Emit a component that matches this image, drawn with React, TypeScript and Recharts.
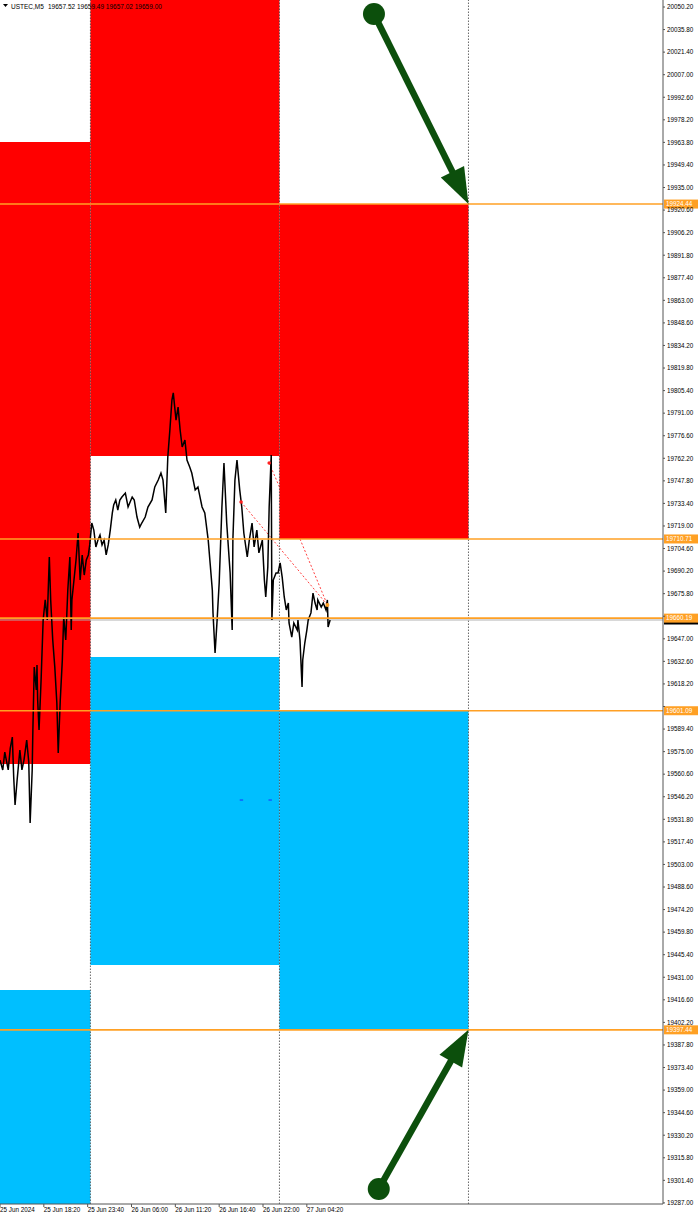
import React from "react";
import {
  ComposedChart,
  Line,
  XAxis,
  YAxis,
  ReferenceArea,
  ReferenceLine,
  ReferenceDot,
} from "recharts";

// M5 bar index (bar 0 = 25 Jun 13:00) and price
const usTecPath: [number, number][] = [
  [0, 19569.6], [4, 19563.3], [7, 19574.7], [12, 19563.3], [15, 19577.3], [18, 19584.3], [20, 19558.8], [22, 19540.9],
  [25, 19556.9], [29, 19576.0], [32, 19563.3], [35, 19569.6], [39, 19582.4], [42, 19568.4], [44, 19529.4], [47, 19563.3],
  [48, 19588.8], [50, 19629.0], [53, 19614.3], [54, 19630.3], [55, 19607.9], [57, 19588.8], [60, 19620.7], [63, 19659.0],
  [66, 19671.8], [69, 19659.0], [72, 19699.2], [74, 19671.8], [77, 19646.2], [80, 19629.0], [83, 19606.0], [85, 19574.1],
  [88, 19607.9], [91, 19633.5], [93, 19660.9], [96, 19646.2], [99, 19678.1], [102, 19699.2], [104, 19652.6], [105, 19671.8],
  [108, 19684.5], [111, 19697.3], [114, 19714.5], [117, 19684.5], [120, 19700.5], [123, 19687.7], [126, 19697.3], [129, 19700.5],
  [131, 19706.9], [134, 19720.9], [137, 19716.4], [140, 19705.6], [143, 19710.0], [146, 19713.2], [149, 19706.9], [152, 19710.0],
  [155, 19700.5], [158, 19706.9], [161, 19716.4], [164, 19727.3], [166, 19732.4], [169, 19735.6], [172, 19729.2], [175, 19735.6],
  [178, 19737.5], [183, 19740.0], [187, 19731.1], [193, 19737.5], [196, 19735.6], [200, 19724.7], [204, 19718.3], [207, 19720.9],
  [212, 19724.7], [216, 19731.1], [222, 19735.6], [226, 19743.9], [231, 19748.3], [235, 19752.8], [238, 19748.3], [242, 19727.3],
  [245, 19763.0], [248, 19780.2], [251, 19799.4], [253, 19803.9], [257, 19786.6], [260, 19794.9], [263, 19780.2], [266, 19769.4],
  [270, 19773.9], [273, 19761.1], [277, 19756.6], [280, 19752.8], [285, 19742.0], [289, 19743.9], [295, 19731.1], [299, 19727.3],
  [304, 19710.0], [307, 19694.1], [310, 19678.1], [311, 19663.5], [314, 19637.9], [317, 19659.0], [320, 19682.6], [324, 19731.1],
  [327, 19759.2], [331, 19720.9], [336, 19689.0], [339, 19652.6], [340, 19710.0], [343, 19748.3], [346, 19761.1], [350, 19742.0],
  [353, 19731.1], [356, 19714.5], [361, 19699.2], [364, 19710.0], [368, 19720.9], [371, 19705.6], [375, 19716.4], [378, 19701.8],
  [383, 19710.0], [386, 19684.5], [388, 19673.7], [391, 19692.8], [393, 19731.1], [396, 19764.3], [397, 19659.0], [399, 19684.5],
  [403, 19689.0], [406, 19689.0], [409, 19695.4], [412, 19686.4], [415, 19673.7], [418, 19665.4], [421, 19669.8], [422, 19657.1],
  [426, 19648.1], [429, 19657.1], [434, 19652.6], [435, 19659.0], [438, 19646.2], [441, 19616.2], [442, 19633.5], [445, 19644.3],
  [448, 19652.6], [450, 19659.0], [454, 19663.5], [457, 19676.2], [460, 19669.8], [463, 19665.4], [464, 19671.8], [469, 19667.3],
  [472, 19669.8], [476, 19665.4], [478, 19671.8], [479, 19654.5], [482, 19659.0],
];

const timeTicks = [0, 64, 128, 192, 256, 320, 384, 448];
const timeLabels = [
  "25 Jun 2024", "25 Jun 18:20", "25 Jun 23:40", "26 Jun 06:00",
  "26 Jun 11:20", "26 Jun 16:40", "26 Jun 22:00", "27 Jun 04:20",
];
const daySeparators = [132, 408, 684];

const priceTicks = [
  20050.2, 20035.8, 20021.4, 20007.0, 19992.6, 19978.2, 19963.8, 19949.4, 19935.0, 19920.6,
  19906.2, 19891.8, 19877.4, 19863.0, 19848.6, 19834.2, 19819.8, 19805.4, 19791.0, 19776.6,
  19762.2, 19747.8, 19733.4, 19719.0, 19704.6, 19690.2, 19675.8, 19661.4, 19647.0, 19632.6,
  19618.2, 19603.8, 19589.4, 19575.0, 19560.6, 19546.2, 19531.8, 19517.4, 19503.0, 19488.6,
  19474.2, 19459.8, 19445.4, 19431.0, 19416.6, 19402.2, 19387.8, 19373.4, 19359.0, 19344.6,
  19330.2, 19315.8, 19301.4, 19287.0,
];

// zones: [barFrom, barTo, priceLow, priceHigh]
const supplyZones: [number, number, number, number][] = [
  [0, 132, 19567.1, 19964.0],
  [132, 408, 19763.7, 20070.0],
  [408, 684, 19710.71, 19924.44],
];
const demandZones: [number, number, number, number][] = [
  [0, 132, 19270.0, 19422.9],
  [132, 408, 19438.8, 19635.4],
  [408, 684, 19397.44, 19601.09],
];

const levels = [19924.44, 19710.71, 19660.19, 19601.09, 19397.44];
const bidPrice = 19659.0;
const header = { symbol: "USTEC,M5", ohlc: "19657.52 19659.49 19657.02 19659.00" };

// dotted trend lines (hidden part behind the right supply box left out)
const trendSegments: [number, number, number, number][] = [
  [352, 19734.3, 478, 19668.6],
  [393, 19759.2, 408, 19743.9],
  [438, 19710.7, 478, 19668.6],
];
const trendStarts: [number, number][] = [[352, 19734.3], [393, 19759.2]];
const blueMarks: [number, number][] = [[350, 19544.1], [392, 19544.1]];

// arrows: [fromBar, fromPrice, toBar, toPrice]
const arrows: [number, number, number, number][] = [
  [546, 20045.7, 684, 19924.44],
  [553, 19295.9, 684, 19397.44],
];

const FONT = '"Liberation Sans", Arial, sans-serif';
const GREEN = "#0c4f0c";
const ORANGE = "#FFA024";

const data = usTecPath.map(([bar, price]) => ({ bar, price }));

function Arrow(props: any) {
  const { x1, y1, x2, y2 } = props;
  const dx = x2 - x1;
  const dy = y2 - y1;
  const len = Math.hypot(dx, dy) || 1;
  const ux = dx / len;
  const uy = dy / len;
  const headLen = 36;
  const headW = 13;
  const bx = x2 - ux * headLen;
  const by = y2 - uy * headLen;
  const px = -uy;
  const py = ux;
  return (
    <g>
      <line x1={x1} y1={y1} x2={bx + ux * 2} y2={by + uy * 2} stroke={GREEN} strokeWidth={6.5} />
      <polygon
        points={`${x2},${y2} ${bx + px * headW},${by + py * headW} ${bx - px * headW},${by - py * headW}`}
        fill={GREEN}
      />
      <circle cx={x1} cy={y1} r={11} fill={GREEN} />
    </g>
  );
}

function PriceTag({ viewBox, text, bg, fg }: any) {
  if (!viewBox) return null;
  const left = viewBox.x + viewBox.width + 1;
  const y = viewBox.y;
  return (
    <g>
      <rect x={left} y={y - 4.5} width={34} height={9} fill={bg} />
      <text x={left + 2} y={y + 2.3} fontSize={6.3} fill={fg} fontFamily={FONT}>
        {text}
      </text>
    </g>
  );
}

// tick labels hidden by a price tag on the scale are not drawn
function PriceTick({ x, y, payload }: any) {
  const v = payload.value as number;
  if (levels.some((lv) => Math.abs(lv - v) < 3)) return null;
  return (
    <text x={x} y={y + 2.3} fontSize={6.3} fill="#000" fontFamily={FONT}>
      {v.toFixed(2)}
    </text>
  );
}

export default function App() {
  return (
    <div style={{ position: "relative", width: 700, height: 1218, background: "#fff" }}>
      <style>{"body{margin:0}"}</style>
      <ComposedChart width={700} height={1218} data={data} margin={{ top: 0, right: 0, bottom: 0, left: 0 }}>
        <XAxis
          dataKey="bar"
          type="number"
          domain={[0, 968]}
          ticks={timeTicks}
          interval={0}
          allowDataOverflow
          height={14}
          tickSize={3}
          tickMargin={1}
          tickFormatter={(v: number) => timeLabels[timeTicks.indexOf(v)] ?? ""}
          tick={{ fontSize: 6.3, fill: "#000", fontFamily: FONT, textAnchor: "start" }}
          stroke="#555"
        />
        <YAxis
          orientation="right"
          type="number"
          domain={[19286.3, 20054.67]}
          ticks={priceTicks}
          interval={0}
          allowDataOverflow
          width={37}
          tickSize={2}
          tickMargin={2}
          tick={<PriceTick />}
          stroke="#555"
        />
        {trendSegments.map(([a, p, b, q], i) => (
          <ReferenceLine
            key={`t${i}`}
            segment={[{ x: a, y: p }, { x: b, y: q }]}
            stroke="#ff4040"
            strokeDasharray="2 2"
            ifOverflow="visible"
          />
        ))}
        {supplyZones.map(([a, b, lo, hi], i) => (
          <ReferenceArea key={`s${i}`} x1={a} x2={b} y1={lo} y2={hi} fill="#FF0000" fillOpacity={1} ifOverflow="hidden" />
        ))}
        {demandZones.map(([a, b, lo, hi], i) => (
          <ReferenceArea key={`d${i}`} x1={a} x2={b} y1={lo} y2={hi} fill="#00BFFF" fillOpacity={1} ifOverflow="hidden" />
        ))}
        {daySeparators.map((b) => (
          <ReferenceLine key={`sep${b}`} x={b} stroke="#444" strokeDasharray="1.5 1.5" strokeWidth={0.8} />
        ))}
        {blueMarks.map(([b, p], i) => (
          <ReferenceLine key={`bm${i}`} segment={[{ x: b, y: p }, { x: b + 5, y: p }]} stroke="#1060ff" strokeWidth={1.5} />
        ))}
        {trendStarts.map(([b, p], i) => (
          <ReferenceDot key={`ts${i}`} x={b} y={p} r={1.8} fill="#ff2020" stroke="none" />
        ))}
        <ReferenceLine
          y={bidPrice}
          stroke="#b0b0b0"
          strokeWidth={1}
          label={(p: any) => <PriceTag {...p} text={bidPrice.toFixed(2)} bg="#000" fg="#fff" />}
        />
        <Line
          type="linear"
          dataKey="price"
          stroke="#000"
          strokeWidth={1.5}
          dot={false}
          isAnimationActive={false}
        />
        {levels.map((lv) => (
          <ReferenceLine
            key={`lv${lv}`}
            y={lv}
            stroke={ORANGE}
            strokeWidth={1.6}
            label={(p: any) => <PriceTag {...p} text={lv.toFixed(2)} bg={ORANGE} fg="#fff" />}
          />
        ))}
        <ReferenceDot x={478} y={19668.6} r={2} fill={ORANGE} stroke="none" />
        {arrows.map(([a, p, b, q], i) => (
          <ReferenceLine
            key={`ar${i}`}
            segment={[{ x: a, y: p }, { x: b, y: q }]}
            ifOverflow="visible"
            shape={(props: any) => <Arrow {...props} />}
          />
        ))}
      </ComposedChart>
      <svg width={200} height={12} style={{ position: "absolute", left: 0, top: 0 }}>
        <polygon points="3,4 8,4 5.5,7" fill="#000" />
        <text x={11} y={9} fontSize={6.5} fontFamily={FONT} fill="#000">
          {header.symbol}
        </text>
        <text x={48} y={9} fontSize={6.5} fontFamily={FONT} fill="#000">
          {header.ohlc}
        </text>
      </svg>
    </div>
  );
}
